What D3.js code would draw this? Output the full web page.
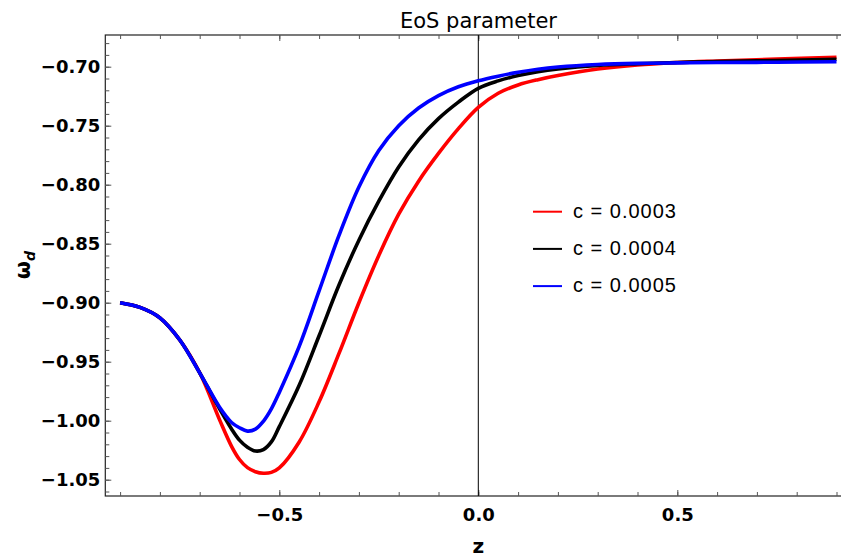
<!DOCTYPE html>
<html>
<head>
<meta charset="utf-8">
<script src="https://cdn.jsdelivr.net/npm/d3@7"></script>
<style>
  body { margin: 0; background: #fff; }
  svg { display: block; }
</style>
</head>
<body>
<svg id="svg"></svg>
<script>
// values
const zValues = [-0.9, -0.85, -0.8, -0.75, -0.7, -0.65, -0.62, -0.6, -0.58, -0.56, -0.54, -0.52, -0.5,
  -0.45, -0.4, -0.35, -0.3, -0.25, -0.2, -0.15, -0.1, -0.05, 0, 0.05, 0.1, 0.15, 0.2, 0.3, 0.4, 0.5, 0.6, 0.75, 0.9];
const wRed = [-0.900, -0.9040, -0.9128, -0.9316, -0.9594, -0.9993, -1.0217, -1.0329, -1.0398, -1.0432, -1.0445, -1.0438, -1.0400,
  -1.018, -0.984, -0.943, -0.900, -0.860, -0.825, -0.797, -0.7735, -0.7525, -0.7345, -0.7225, -0.7155, -0.7110, -0.7075, -0.7020, -0.6985, -0.6965, -0.6952, -0.6935, -0.6920];
const wBlack = [-0.900, -0.9040, -0.9128, -0.9316, -0.9594, -0.9900, -1.0070, -1.0165, -1.0225, -1.0257, -1.0245, -1.0180, -1.0050,
  -0.970, -0.928, -0.885, -0.847, -0.814, -0.785, -0.762, -0.744, -0.730, -0.7183, -0.7120, -0.7075, -0.7043, -0.7020, -0.6990, -0.6975, -0.6964, -0.6957, -0.6947, -0.6937];
const wBlue = [-0.900, -0.9040, -0.9128, -0.9316, -0.9594, -0.9886, -1.0015, -1.0060, -1.0088, -1.0072, -1.0005, -0.9900, -0.9760,
  -0.937, -0.890, -0.843, -0.802, -0.771, -0.750, -0.735, -0.7245, -0.717, -0.7119, -0.7080, -0.7047, -0.7021, -0.7003, -0.6982, -0.6972, -0.6968, -0.6965, -0.6962, -0.6958];

const seriesNames = ['c = 0.0003', 'c = 0.0004', 'c = 0.0005'];
const seriesColors = ['#ff0000', '#000000', '#0000ff'];

const xMajorTicks = [-0.5, 0, 0.5];
const xMinorTicks = d3.range(-9, 10).map(d => d / 10);
const yMajorTicks = [-1.05, -1.0, -0.95, -0.9, -0.85, -0.8, -0.75, -0.7];
const yMinorTicks = d3.range(-106, -67).map(d => d / 100);

const width = 841, height = 558;
const frame = {left: 105.3, top: 35, bottom: 496, right: 851};

const svg = d3.select('#svg')
  .attr('width', width)
  .attr('height', height);

const x = d3.scaleLinear().domain([-0.9, 0.9]).range([120.1, 836.5]);
const y = d3.scaleLinear().domain([-1.05, -0.70]).range([479.7, 66.7]);

const tickFont = 'DejaVu Sans, sans-serif';

// frame
svg.append('rect')
  .attr('x', frame.left)
  .attr('y', frame.top)
  .attr('width', frame.right - frame.left)
  .attr('height', frame.bottom - frame.top)
  .attr('fill', 'none')
  .attr('stroke', '#222')
  .attr('stroke-width', 1.2);

// minor ticks (inward)
svg.append('g')
  .attr('transform', `translate(${frame.left},0)`)
  .call(d3.axisLeft(y).tickValues(yMinorTicks).tickSize(-4).tickFormat(''))
  .call(g => g.select('.domain').remove());
svg.append('g')
  .attr('transform', `translate(0,${frame.bottom})`)
  .call(d3.axisBottom(x).tickValues(xMinorTicks).tickSize(-4).tickFormat(''))
  .call(g => g.select('.domain').remove());
svg.append('g')
  .attr('transform', `translate(0,${frame.top})`)
  .call(d3.axisTop(x).tickValues(xMinorTicks).tickSize(-4).tickFormat(''))
  .call(g => g.select('.domain').remove());

// major ticks with labels
const yAxis = svg.append('g')
  .attr('transform', `translate(${frame.left},0)`)
  .call(d3.axisLeft(y).tickValues(yMajorTicks).tickSize(-6).tickPadding(5).tickFormat(d3.format('.2f')))
  .call(g => g.select('.domain').remove());
const xAxis = svg.append('g')
  .attr('transform', `translate(0,${frame.bottom})`)
  .call(d3.axisBottom(x).tickValues(xMajorTicks).tickSize(-6).tickPadding(12).tickFormat(d3.format('.1f')))
  .call(g => g.select('.domain').remove());
svg.append('g')
  .attr('transform', `translate(0,${frame.top})`)
  .call(d3.axisTop(x).tickValues(xMajorTicks).tickSize(-6).tickFormat(''))
  .call(g => g.select('.domain').remove());

svg.selectAll('.tick line').attr('stroke', '#555').attr('stroke-width', 1);
[yAxis, xAxis].forEach(g => g.selectAll('text')
  .attr('fill', '#000')
  .style('font-family', tickFont)
  .style('font-weight', 'bold')
  .style('font-size', '18px'));

// z = 0 axis line
svg.append('line')
  .attr('x1', x(0)).attr('x2', x(0))
  .attr('y1', frame.top).attr('y2', frame.bottom)
  .attr('stroke', '#000')
  .attr('stroke-width', 1);

// curves
const allSeries = [wRed, wBlack, wBlue];
const line = d3.line()
  .x((d, i) => x(zValues[i]))
  .y(d => y(d))
  .curve(d3.curveCatmullRom.alpha(0.5));

svg.append('g').selectAll('path')
  .data(allSeries)
  .enter()
  .append('path')
  .attr('d', d => line(d))
  .attr('fill', 'none')
  .attr('stroke', (d, i) => seriesColors[i])
  .attr('stroke-width', 3.6)
  .attr('stroke-linejoin', 'round');

// legend
const legend = svg.append('g').selectAll('.legend-item')
  .data(seriesNames)
  .enter()
  .append('g')
  .attr('class', 'legend-item')
  .attr('transform', (d, i) => `translate(533,${211.7 + i * 37.2})`);

legend.append('line')
  .attr('x1', 0).attr('x2', 29)
  .attr('stroke', (d, i) => seriesColors[i])
  .attr('stroke-width', 2);

legend.append('text')
  .attr('x', 40)
  .attr('y', 6)
  .style('font-family', 'Liberation Sans, Arial, sans-serif')
  .style('font-size', '20px')
  .style('letter-spacing', '1px')
  .attr('fill', '#000')
  .text(d => d);

// title and axis labels
svg.append('text')
  .attr('x', 478.5)
  .attr('y', 28)
  .attr('text-anchor', 'middle')
  .style('font-family', tickFont)
  .style('font-size', '21px')
  .text('EoS parameter');

svg.append('text')
  .attr('x', x(0))
  .attr('y', 553)
  .attr('text-anchor', 'middle')
  .style('font-family', tickFont)
  .style('font-weight', 'bold')
  .style('font-size', '20px')
  .text('z');

const yLabel = svg.append('text')
  .attr('transform', 'translate(30,265) rotate(-90)')
  .attr('text-anchor', 'middle')
  .style('font-family', tickFont)
  .style('font-weight', 'bold')
  .style('font-size', '21px');
yLabel.append('tspan').text('ω');
yLabel.append('tspan')
  .attr('dy', 5)
  .style('font-size', '14px')
  .style('font-style', 'italic')
  .text('d');
</script>
</body>
</html>
